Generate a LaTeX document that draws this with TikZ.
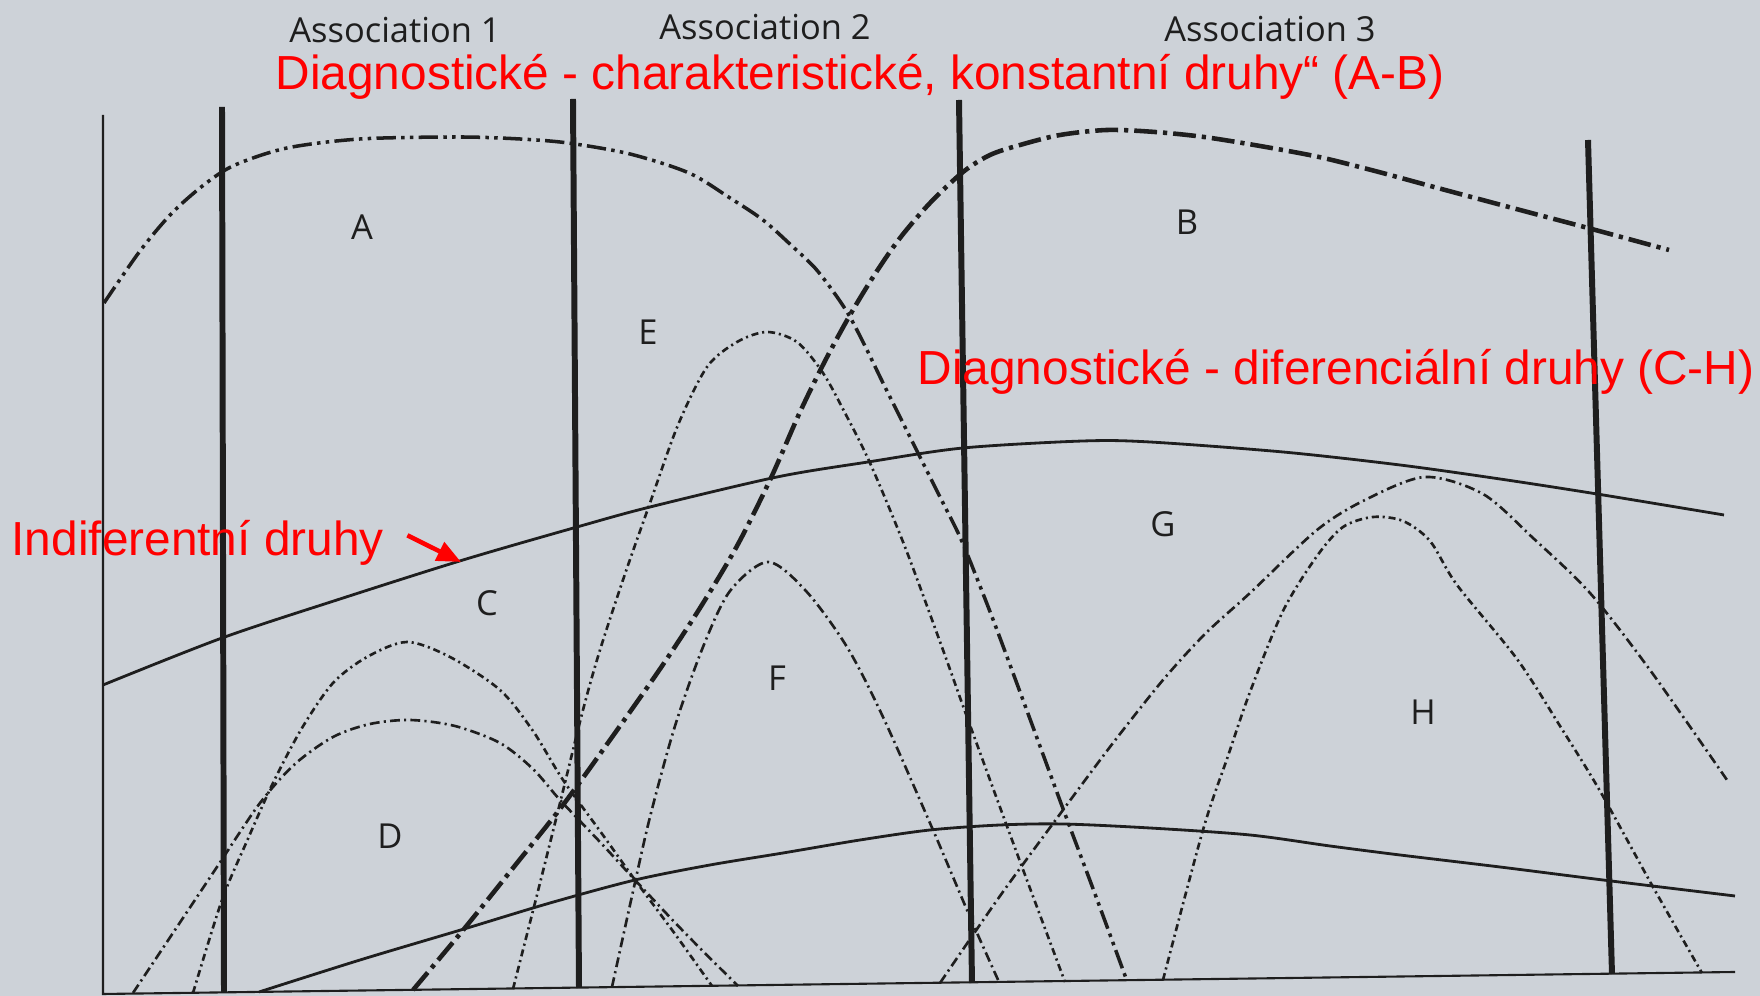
\documentclass[tikz,border=0pt]{standalone}
\usepackage{fontspec}
\setmainfont{Liberation Sans}
\newfontfamily\bookfont{Open Sans}
\definecolor{FIGred}{HTML}{FF0000}
\definecolor{FIGink}{HTML}{1E1E1E}
\definecolor{FIGpaper}{HTML}{CDD2D8}
\usetikzlibrary{arrows.meta}

\begin{document}
\begin{tikzpicture}[scale=1.0,
      frameline/.style={FIGink, line width=0.6pt},
      boundary/.style={FIGink, line width=1.7pt},
      gradient/.style={FIGink, line width=0.8pt},
      constA/.style={FIGink, line width=1pt, dash pattern=on 5.5pt off 1.5pt on 1pt off 1.5pt on 1pt off 1.5pt},
      constB/.style={FIGink, line width=1.3pt, dash pattern=on 6.5pt off 1.7pt on 1.2pt off 1.7pt},
      diffdot/.style={FIGink, line width=0.75pt, dash pattern=on 2pt off 1.1pt on 0.6pt off 1.1pt},
      diffdash/.style={FIGink, line width=0.75pt, dash pattern=on 2.8pt off 1.2pt on 0.6pt off 1.2pt},
      letter/.style={font=\bookfont\fontsize{9.8}{11}\selectfont, text=FIGink, inner sep=0pt},
      redtext/.style={font=\fontsize{13.6}{16}\selectfont, text=FIGred, anchor=base west, inner sep=0pt}]
   % Paper
   \fill[FIGpaper] (0,0) rectangle (17.6,9.96);
   % Axes
   \draw[frameline] (1.03,8.81) -- (1.03,0.02) -- (17.35,0.24);
   % Indifferent species (solid)
   \draw[gradient] plot[smooth] coordinates {(1.03,3.11) (2.22,3.58) (3.40,3.97) (4.63,4.36) (5.77,4.69) (6.50,4.89) (7.77,5.19) (8.68,5.34) (9.63,5.48) (10.83,5.55) (11.50,5.54) (12.83,5.44) (14.00,5.31) (15.00,5.17) (15.97,5.02) (17.24,4.81)};
   \draw[gradient] plot[smooth] coordinates {(2.59,0.04) (3.60,0.36) (4.64,0.67) (5.50,0.93) (6.35,1.16) (7.10,1.31) (7.83,1.43) (8.60,1.56) (9.30,1.66) (10.00,1.71) (10.63,1.72) (11.50,1.68) (12.50,1.61) (13.30,1.50) (14.00,1.41) (15.00,1.29) (16.03,1.16) (17.35,1.00)};
   % A
   \draw[constA] plot[smooth] coordinates {(1.04,6.93) (1.40,7.45) (1.72,7.83) (2.05,8.12) (2.35,8.31) (2.87,8.48) (3.60,8.57) (4.59,8.59) (5.20,8.57) (5.68,8.53) (6.30,8.42) (6.89,8.23) (7.30,7.98) (7.63,7.76) (7.92,7.50) (8.15,7.28) (8.35,7.02) (8.50,6.79) (8.67,6.46) (8.83,6.13) (9.02,5.75) (9.20,5.39) (9.40,4.99) (9.60,4.59) (9.78,4.15) (9.97,3.66) (10.30,2.77) (10.62,1.90) (10.95,1.02) (11.27,0.15)};
   % B
   \draw[constB] plot[smooth] coordinates {(4.13,0.06) (4.64,0.67) (5.13,1.28) (5.63,1.91) (6.10,2.56) (6.60,3.27) (7.00,3.88) (7.37,4.50) (7.70,5.16) (8.00,5.84) (8.25,6.35) (8.50,6.81) (8.75,7.22) (9.00,7.58) (9.30,7.93) (9.63,8.24) (9.90,8.41) (10.20,8.51) (10.60,8.61) (11.07,8.66) (11.55,8.64) (12.04,8.59) (12.60,8.50) (13.19,8.39) (13.75,8.25) (14.34,8.09) (15.20,7.86) (15.88,7.68) (16.69,7.46)};
   % C and D
   \draw[diffdot] plot[smooth] coordinates {(1.93,0.03) (2.22,0.96) (2.47,1.55) (2.73,2.13) (3.02,2.68) (3.33,3.13) (3.67,3.39) (4.07,3.54) (4.50,3.39) (5.00,3.06) (5.33,2.65) (5.63,2.16) (6.00,1.65) (6.35,1.16) (6.75,0.62) (7.12,0.10)};
   \draw[diffdash] plot[smooth] coordinates {(1.33,0.03) (1.75,0.66) (2.17,1.29) (2.60,1.93) (2.95,2.32) (3.33,2.59) (3.70,2.72) (4.10,2.76) (4.55,2.70) (5.00,2.53) (5.33,2.27) (5.60,1.96) (6.00,1.54) (6.35,1.16) (6.85,0.63) (7.38,0.10)};
   % E and F
   \draw[diffdot] plot[smooth] coordinates {(5.13,0.07) (5.38,1.05) (5.60,1.93) (5.83,2.86) (6.00,3.46) (6.25,4.22) (6.50,4.93) (6.78,5.71) (7.07,6.29) (7.37,6.54) (7.67,6.64) (7.97,6.54) (8.23,6.23) (8.45,5.83) (8.70,5.33) (9.05,4.49) (9.43,3.46) (9.67,2.79) (10.15,1.48) (10.65,0.14)};
   \draw[diffdash] plot[smooth] coordinates {(6.12,0.09) (6.32,1.00) (6.50,1.79) (6.75,2.70) (7.03,3.49) (7.30,4.05) (7.68,4.34) (8.06,4.05) (8.47,3.49) (8.83,2.79) (9.33,1.66) (9.70,0.79) (9.99,0.14)};
   % G and H
   \draw[diffdash] plot[smooth] coordinates {(9.40,0.13) (10.00,1.00) (10.63,1.86) (11.13,2.53) (11.63,3.16) (12.05,3.62) (12.50,4.03) (13.17,4.66) (13.65,4.96) (14.25,5.19) (14.83,5.02) (15.33,4.58) (15.90,4.03) (16.50,3.26) (17.27,2.16)};
   \draw[diffdot] plot[smooth] coordinates {(11.63,0.16) (12.03,1.66) (12.28,2.40) (12.50,3.04) (12.83,3.85) (13.17,4.40) (13.43,4.69) (13.73,4.79) (14.03,4.75) (14.30,4.55) (14.57,4.11) (15.17,3.37) (15.60,2.70) (16.00,2.05) (16.53,1.09) (17.02,0.23)};
   % Association boundaries
   \draw[boundary] (2.22,8.89) -- (2.24,0.04);
   \draw[boundary] (5.73,8.97) -- (5.79,0.08);
   \draw[boundary] (9.59,8.96) -- (9.72,0.13);
   \draw[boundary] (15.88,8.56) -- (16.12,0.22);
   % Association names
   \node[letter] (assocI) at (3.95,9.66) {Association 1};
   \node[letter] (assocII) at (7.65,9.69) {Association 2};
   \node[letter] (assocIII) at (12.70,9.67) {Association 3};
   % Species letters
   \node[letter] (spA) at (3.62,7.69) {A};
   \node[letter] (spB) at (11.87,7.74) {B};
   \node[letter] (spC) at (4.87,3.93) {C};
   \node[letter] (spD) at (3.90,1.60) {D};
   \node[letter] (spE) at (6.48,6.64) {E};
   \node[letter] (spF) at (7.77,3.18) {F};
   \node[letter] (spG) at (11.63,4.72) {G};
   \node[letter] (spH) at (14.23,2.84) {H};
   % Red notes
   \node[redtext] (noteAB) at (2.75,9.06) {Diagnostické - charakteristické, konstantní druhy“ (A-B)};
   \node[redtext] (noteCH) at (9.17,6.11) {Diagnostické - diferenciální druhy (C-H)};
   \node[redtext] (noteIndif) at (0.11,4.40) {Indiferentní druhy};
   \coordinate (indifTip) at (4.61,4.34);
   \draw[FIGred, line width=1.3pt, -{Triangle[length=2.4mm, width=2mm]}] ([xshift=0.23cm, yshift=0.08cm]noteIndif.east) -- (indifTip);
\end{tikzpicture}
\end{document}
